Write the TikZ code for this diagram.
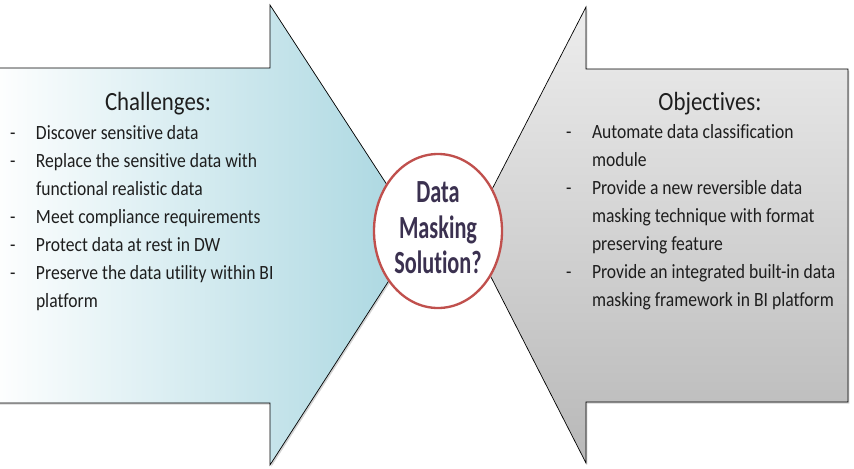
\documentclass[tikz,border=0pt]{standalone}
\usepackage{fontspec}
\setmainfont{Carlito}[Ligatures=NoCommon]
\usepackage{graphicx}
\usepackage{xcolor}
\definecolor{chalBlue}{HTML}{A8D6E0}
\definecolor{objGrayTop}{HTML}{EDEDED}
\definecolor{objGrayBot}{HTML}{B8B8B8}
\definecolor{maskRed}{HTML}{C0504D}
\definecolor{maskText}{HTML}{3B3150}
\definecolor{listText}{HTML}{1E1E1E}
\newcommand{\vstretch}[2][1.15]{\scalebox{1}[#1]{#2}}
\usetikzlibrary{shadows,shapes.geometric}

\begin{document}
\begin{tikzpicture}[x=0.03cm, y=-0.03cm,
  arrowbody/.style={draw=black, line width=0.6pt,
    drop shadow={shadow xshift=1.2pt, shadow yshift=-1.4pt, opacity=0.35}},
  heading/.style={anchor=base, inner sep=0pt, text=listText,
    font=\fontsize{19.5}{23}\selectfont},
  itemlist/.style={anchor=base west, inner sep=0pt, text=listText,
    font=\fontsize{15}{20.8}\selectfont}]
  \useasboundingbox (0,0) rectangle (854,468);
  % ---- left arrow: challenges ----
  \shade[arrowbody, left color=white, right color=chalBlue]
    (-10,68) -- (270,68) -- (270,5) -- (419,234) -- (270,465) -- (270,403) -- (-10,403) -- cycle;
  % ---- right arrow: objectives ----
  \shade[arrowbody, top color=objGrayTop, bottom color=objGrayBot]
    (586,7) -- (469,234) -- (586,463) -- (586,402) -- (848,402) -- (848,69) -- (586,69) -- cycle;
  \node[heading] (chalHead) at (158,110) {\vstretch{Challenges:}};
  \node[itemlist] (chalList) at (10,139) {\vstretch{\begin{tabular}[t]{@{}p{22pt}@{}l@{}}
    - & Discover sensitive data\\
    - & Replace the sensitive data with\\
      & functional realistic data\\
    - & Meet compliance requirements\\
    - & Protect data at rest in DW\\
    - & Preserve the data utility within BI\\
      & platform
  \end{tabular}}};
  \node[heading] (objHead) at (710,110) {\vstretch{Objectives:}};
  \node[itemlist] (objList) at (566,138) {\vstretch{\begin{tabular}[t]{@{}p{22pt}@{}l@{}}
    - & Automate data classification\\
      & module\\
    - & Provide a new reversible data\\
      & masking technique with format\\
      & preserving feature\\
    - & Provide an integrated built-in data\\
      & masking framework in BI platform
  \end{tabular}}};
  % ---- centre: the open question ----
  \node[ellipse, draw=maskRed, line width=2pt, fill=white, inner sep=0pt,
    minimum width=3.84cm, minimum height=4.62cm, text=maskText,
    font=\fontsize{19}{21}\selectfont\bfseries] (solution) at (438,231)
    {\vstretch[1.45]{\begin{tabular}{@{}c@{}}Data\\Masking\\Solution?\end{tabular}}};
\end{tikzpicture}
\end{document}
